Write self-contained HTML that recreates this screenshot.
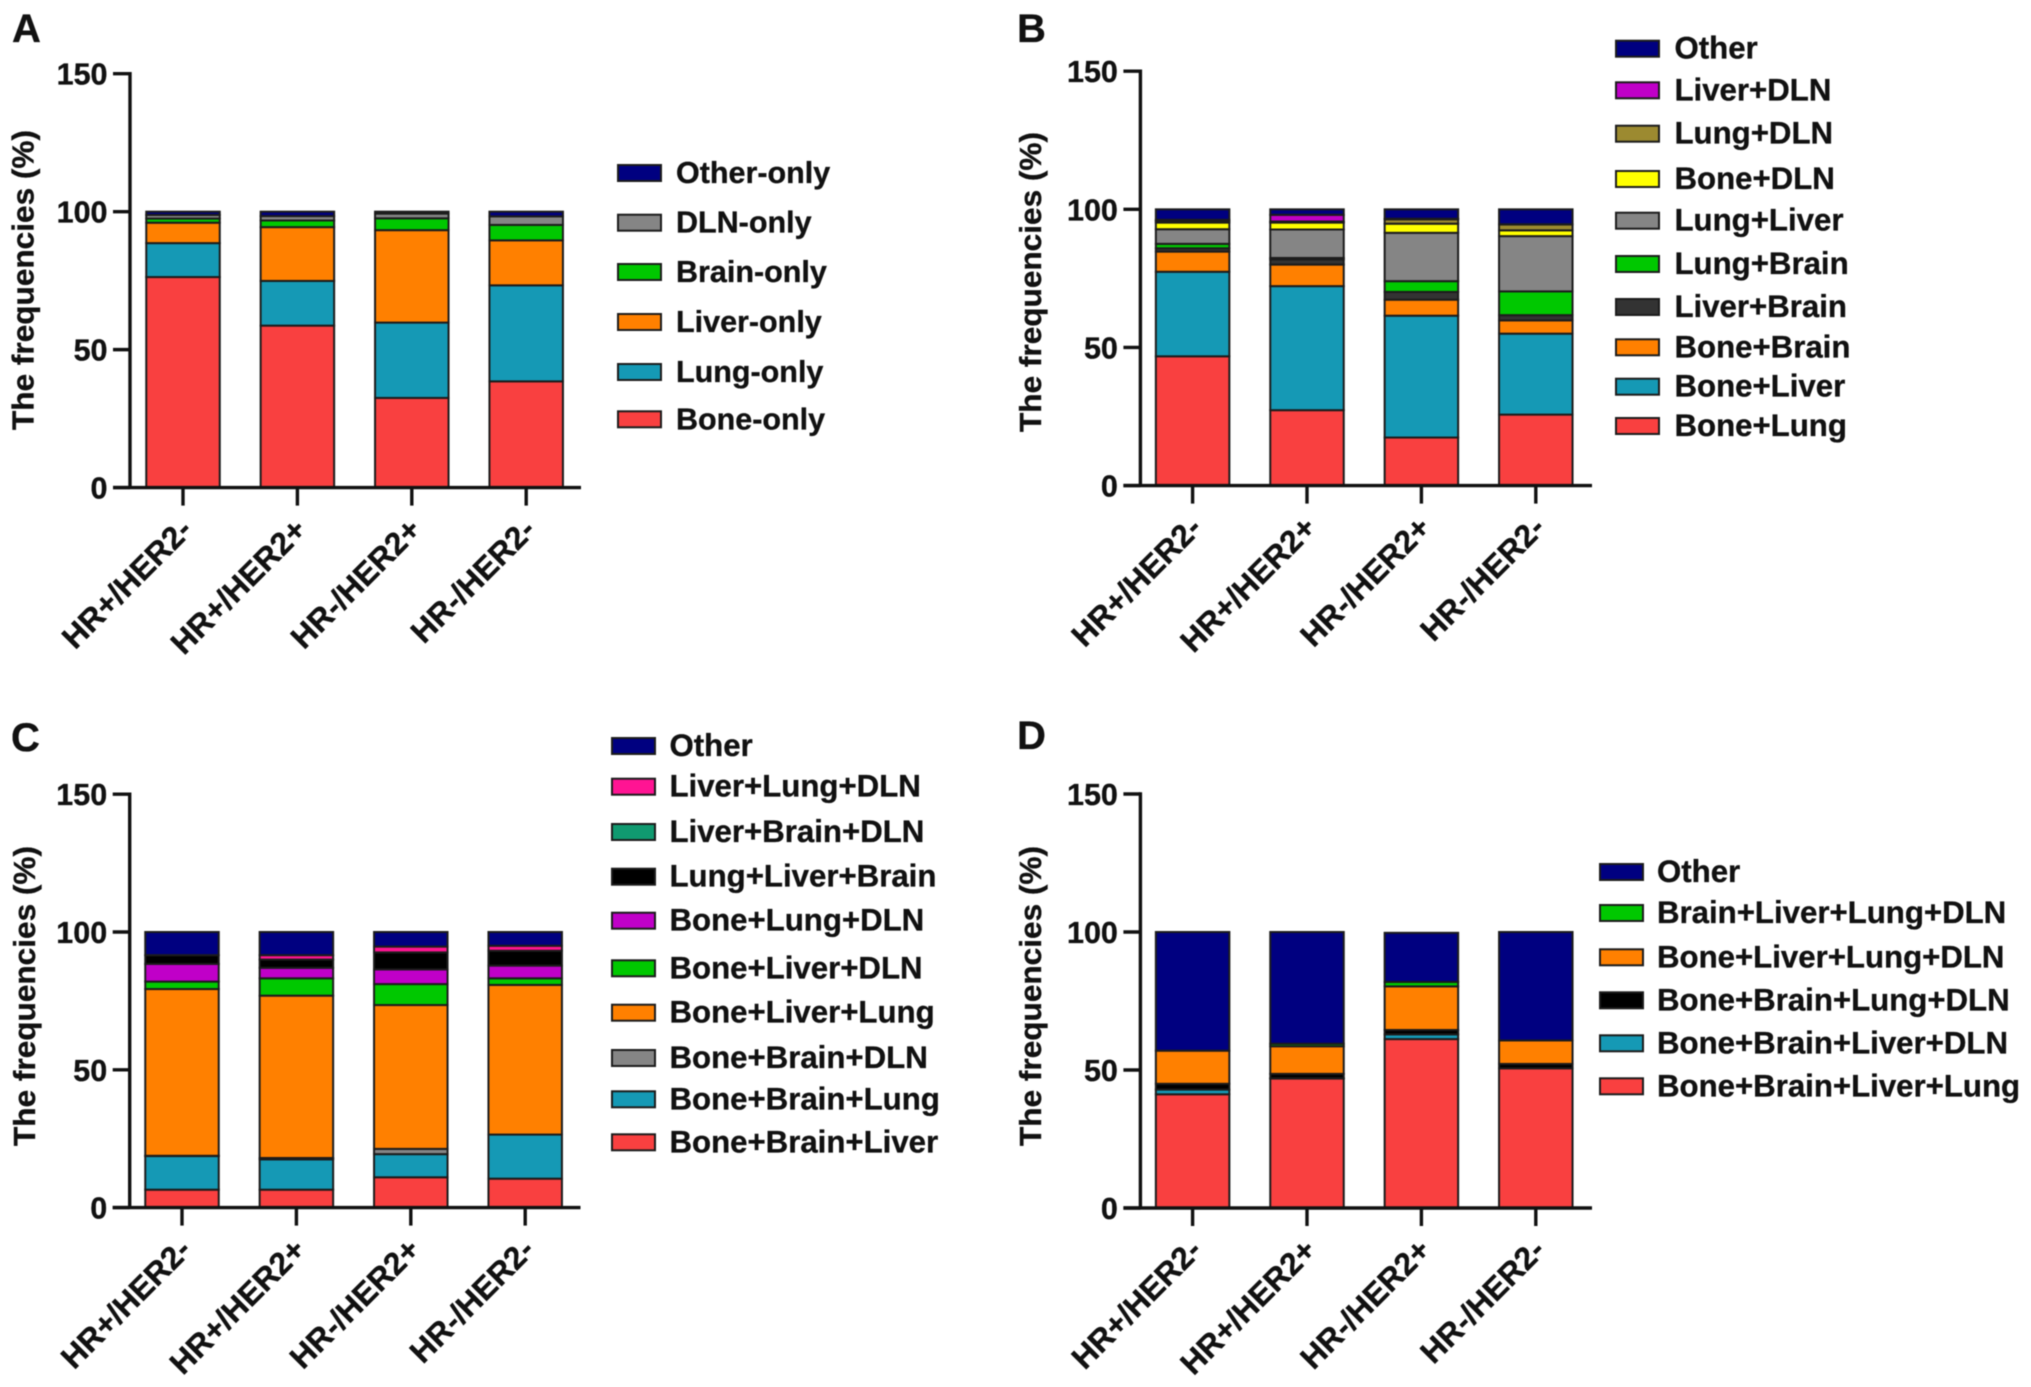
<!DOCTYPE html>
<html lang="en">
<head>
<meta charset="utf-8">
<title>Metastasis pattern frequencies by subtype</title>
<style>
  html, body { margin: 0; padding: 0; background: #fff; }
  svg { display: block; filter: blur(0.5px); }
  text { font-family: "Liberation Sans", Arial, sans-serif; font-weight: bold; fill: #111; stroke: #111; stroke-width: 0.35px; }
</style>
</head>
<body>
<svg id="figure" xmlns="http://www.w3.org/2000/svg" width="2031" height="1387" viewBox="0 0 2031 1387"></svg>
<script>
// ---------- shared axis data ----------
const categories = ["HR+/HER2-", "HR+/HER2+", "HR-/HER2+", "HR-/HER2-"];
const yTicks = [0, 50, 100, 150];
const yAxisMax = 150;

// ---------- panel A: one site (bottom to top of stack) ----------
const aNames = ["Bone-only", "Lung-only", "Liver-only", "Brain-only", "DLN-only", "Other-only"];
const aBone = [76.3, 58.7, 32.5, 38.5];
const aLung = [12.3, 16.2, 27.3, 34.8];
const aLiver = [7.4, 19.5, 33.5, 16.3];
const aBrain = [1.5, 2.4, 4.3, 5.6];
const aDln = [1.3, 1.6, 1.7, 3.1];
const aOther = [1.2, 1.6, 0.7, 1.7];

// ---------- panel B: two sites ----------
const bNames = ["Bone+Lung", "Bone+Liver", "Bone+Brain", "Liver+Brain", "Lung+Brain", "Lung+Liver", "Bone+DLN", "Lung+DLN", "Liver+DLN", "Other"];
const bBoneLung = [46.8, 27.3, 17.4, 25.7];
const bBoneLiver = [30.6, 44.9, 44.1, 29.3];
const bBoneBrain = [7.3, 7.8, 5.8, 4.8];
const bLiverBrain = [1.2, 1.9, 2.8, 1.9];
const bLungBrain = [1.6, 0.5, 3.9, 8.6];
const bLungLiver = [5.3, 10.3, 17.5, 20];
const bBoneDln = [2.4, 2.5, 3.3, 2.1];
const bLungDln = [0.6, 0.4, 1.6, 2.1];
const bLiverDln = [0.4, 2.4, 0.2, 0.1];
const bOther = [3.8, 2, 3.4, 5.4];

// ---------- panel C: three sites ----------
const cNames = ["Bone+Brain+Liver", "Bone+Brain+Lung", "Bone+Brain+DLN", "Bone+Liver+Lung", "Bone+Liver+DLN", "Bone+Lung+DLN", "Lung+Liver+Brain", "Liver+Brain+DLN", "Liver+Lung+DLN", "Other"];
const cBoneBrainLiver = [6.5, 6.5, 11, 10.5];
const cBoneBrainLung = [12.2, 11, 8.4, 16];
const cBoneBrainDln = [0.1, 0.5, 1.9, 0];
const cBoneLiverLung = [60.5, 58.9, 52.2, 54.3];
const cBoneLiverDln = [2.7, 6.3, 7.6, 2.4];
const cBoneLungDln = [6.4, 3.8, 5.3, 4.6];
const cLungLiverBrain = [3.2, 3, 6.2, 5.4];
const cLiverBrainDln = [0, 0, 0, 0];
const cLiverLungDln = [0, 1.6, 2.1, 1.8];
const cOther = [8.4, 8.4, 5.3, 5];

// ---------- panel D: four sites ----------
const dNames = ["Bone+Brain+Liver+Lung", "Bone+Brain+Liver+DLN", "Bone+Brain+Lung+DLN", "Bone+Liver+Lung+DLN", "Brain+Liver+Lung+DLN", "Other"];
const dBoneBrainLiverLung = [41.2, 46.9, 61.2, 50.6];
const dBoneBrainLiverDln = [1.7, 0.1, 1.7, 0];
const dBoneBrainLungDln = [2.1, 1.6, 1.6, 1.6];
const dBoneLiverLungDln = [12, 10, 15.8, 8.5];
const dBrainLiverLungDln = [0, 0.9, 1.6, 0];
const dOther = [43, 40.5, 17.8, 39.3];

// ---------- styling and layout (not data) ----------
const RED = "#f94040", TEAL = "#1599b5", ORANGE = "#ff8000", GREEN = "#00c800", GREY = "#858585", NAVY = "#000080";
const panels = [
  { id: "a", letter: "A", letterX: 12, letterY: 42,
    axisX: 130, yTop: 73.7, yBase: 487.6, xEnd: 581, firstBar: 183, step: 114.4,
    titleX: 33.5, titleY: 280,
    names: aNames, series: [aBone, aLung, aLiver, aBrain, aDln, aOther],
    colors: [RED, TEAL, ORANGE, GREEN, GREY, NAVY], legendFont: 30.5,
    legendX: 617, legendTextX: 676, legendRows: [173, 222.7, 272, 322, 372, 419.3] },
  { id: "b", letter: "B", letterX: 1017, letterY: 42,
    axisX: 1140.4, yTop: 71.2, yBase: 485.6, xEnd: 1592, firstBar: 1192.6, step: 114.4,
    titleX: 1041, titleY: 282,
    names: bNames, series: [bBoneLung, bBoneLiver, bBoneBrain, bLiverBrain, bLungBrain, bLungLiver, bBoneDln, bLungDln, bLiverDln, bOther],
    colors: [RED, TEAL, ORANGE, "#333333", GREEN, GREY, "#ffff00", "#9c8a30", "#c000c8", NAVY], legendFont: 31.2,
    legendX: 1615, legendTextX: 1674.5, legendRows: [48.7, 90.3, 133.7, 179, 220.7, 264, 307, 347.3, 386.7, 426] },
  { id: "c", letter: "C", letterX: 11, letterY: 751,
    axisX: 129.7, yTop: 794.2, yBase: 1207.6, xEnd: 580.5, firstBar: 182, step: 114.4,
    titleX: 35, titleY: 996,
    names: cNames, series: [cBoneBrainLiver, cBoneBrainLung, cBoneBrainDln, cBoneLiverLung, cBoneLiverDln, cBoneLungDln, cLungLiverBrain, cLiverBrainDln, cLiverLungDln, cOther],
    colors: [RED, TEAL, GREY, ORANGE, GREEN, "#c000c8", "#000000", "#109a70", "#ff1493", NAVY], legendFont: 31.2,
    legendX: 611, legendTextX: 669.5, legendRows: [746, 786.7, 832, 876.7, 920.7, 968.3, 1012.7, 1058, 1099.3, 1142.3] },
  { id: "d", letter: "D", letterX: 1017, letterY: 749,
    axisX: 1140.4, yTop: 794, yBase: 1208, xEnd: 1592, firstBar: 1192.6, step: 114.4,
    titleX: 1041, titleY: 996,
    names: dNames, series: [dBoneBrainLiverLung, dBoneBrainLiverDln, dBoneBrainLungDln, dBoneLiverLungDln, dBrainLiverLungDln, dOther],
    colors: [RED, TEAL, "#000000", ORANGE, GREEN, NAVY], legendFont: 31.2,
    legendX: 1599, legendTextX: 1657, legendRows: [872, 913, 957.3, 1000.3, 1043.3, 1086.3] }
];

const SVG_NS = "http://www.w3.org/2000/svg";
const figure = document.getElementById("figure");
const INK = "#111111";
const BAR_WIDTH = 73.5;

function slug(s) {
  return s.toLowerCase().replace(/[^a-z0-9]+/g, "-").replace(/-$/, "") + (s.endsWith("+") ? "-pos" : s.endsWith("-") ? "-neg" : "");
}
function make(tag, attrs, parent) {
  const el = document.createElementNS(SVG_NS, tag);
  for (const k in attrs) el.setAttribute(k, attrs[k]);
  parent.appendChild(el);
  return el;
}
// Axis functions: value -> pixel y, category index -> pixel x
function yScale(p, v) { return p.yBase - (v / yAxisMax) * (p.yBase - p.yTop); }
function xScale(p, i) { return p.firstBar + i * p.step; }

function drawPanel(p) {
  const g = make("g", {}, figure);
  
  

  const letter = make("text", { x: p.letterX, y: p.letterY, "font-size": 40 }, g);
  letter.textContent = p.letter;
  
  

  // stacked bars, drawn from the series arrays
  categories.forEach(function (cat, i) {
    let running = 0;
    p.series.forEach(function (values, s) {
      const v = values[i];
      if (v <= 0) return;
      const top = yScale(p, running + v);
      const bottom = yScale(p, running);
      running += v;
      const r = make("rect", {
        x: xScale(p, i) - BAR_WIDTH / 2, y: top, width: BAR_WIDTH, height: bottom - top,
        fill: p.colors[s], stroke: "#1c1c1c", "stroke-width": 2
      }, g);
      
      
    });
  });

  // y axis
  const yLine = make("line", { x1: p.axisX, x2: p.axisX, y1: p.yTop - 1.7, y2: p.yBase, stroke: INK, "stroke-width": 3.4 }, g);
  
  

  yTicks.forEach(function (t) {
    const y = yScale(p, t);
    const tick = make("line", { x1: p.axisX - 17, x2: p.axisX, y1: y, y2: y, stroke: INK, "stroke-width": 3.4 }, g);
    
    
    const label = make("text", { x: p.axisX - 22.5, y: y + 11, "text-anchor": "end", "font-size": 30.5 }, g);
    label.textContent = String(t);
    
    
  });

  const title = make("text", {
    x: p.titleX, y: p.titleY, "text-anchor": "middle", "font-size": 31,
    textLength: 300, lengthAdjust: "spacingAndGlyphs",
    transform: "rotate(-90 " + p.titleX + " " + p.titleY + ")"
  }, g);
  title.textContent = "The frequencies (%)";
  
  

  // x axis
  const xLine = make("line", { x1: p.axisX - 17, x2: p.xEnd, y1: p.yBase, y2: p.yBase, stroke: INK, "stroke-width": 3.4 }, g);
  
  

  categories.forEach(function (cat, i) {
    const x = xScale(p, i);
    const tick = make("line", { x1: x, x2: x, y1: p.yBase, y2: p.yBase + 18, stroke: INK, "stroke-width": 3.4 }, g);
    
    
    const lx = x + 11, ly = p.yBase + 44;
    const label = make("text", {
      x: lx, y: ly, "text-anchor": "end", "font-size": 31.7,
      transform: "rotate(-45 " + lx + " " + ly + ")"
    }, g);
    label.textContent = cat;
    
    
  });

  // legend (rows listed top to bottom; series are stacked bottom to top)
  const legend = make("g", {}, g);
  
  
  const n = p.names.length;
  p.legendRows.forEach(function (rowY, row) {
    const s = n - 1 - row;
    const swatch = make("rect", { x: p.legendX + 1, y: rowY - 8, width: 43, height: 16, fill: p.colors[s], stroke: "#1c1c1c", "stroke-width": 2 }, legend);
    
    
    const txt = make("text", { x: p.legendTextX, y: rowY + 10, "font-size": p.legendFont }, legend);
    txt.textContent = p.names[s];
    
    
  });
}

panels.forEach(drawPanel);
</script>
</body>
</html>
